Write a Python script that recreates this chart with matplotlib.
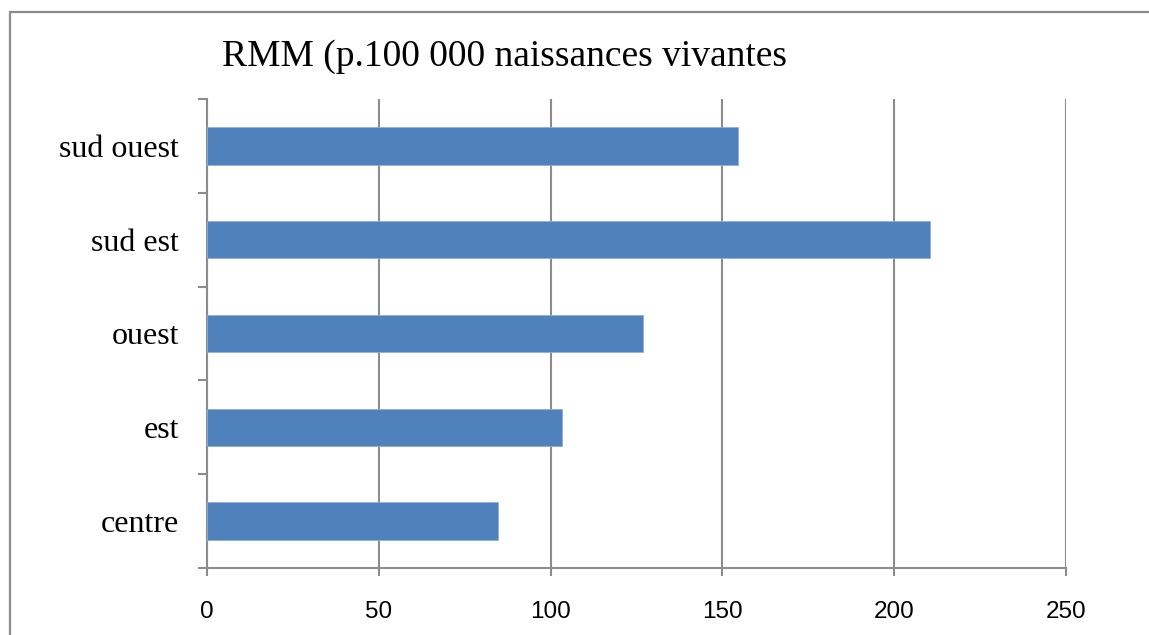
import matplotlib.pyplot as plt
from matplotlib.patches import Rectangle

regions = ["centre", "est", "ouest", "sud est", "sud ouest"]
rmm = [84.6, 103.4, 127.0, 210.5, 154.6]
x_ticks = [0, 50, 100, 150, 200, 250]

grey = "#8c8c8c"
W, H = 1149, 635

fig = plt.figure(figsize=(W / 100, H / 100), dpi=100)
ax = fig.add_axes([207 / W, 1 - 568 / H, (1066 - 207) / W, (568 - 99) / H])

pos = list(range(len(regions)))
ax.barh(pos, rmm, height=0.4, color="#4F81BD", edgecolor="#8fb0d8",
        linewidth=0.6, zorder=3)

ax.set_xlim(0, 250)
ax.set_ylim(-0.5, len(regions) - 0.5)

# grille verticale
ax.set_xticks(x_ticks)
ax.set_xticklabels([str(v) for v in x_ticks], family="Liberation Sans", fontsize=17.5)
ax.grid(axis="x", color=grey, linewidth=1.5, zorder=1)
ax.tick_params(axis="x", direction="out", length=5.5, width=1.5, color=grey, pad=18)

# ticks entre les catégories, libellés au centre
ax.set_yticks([p - 0.5 for p in pos] + [len(regions) - 0.5])
ax.set_yticklabels([])
ax.set_yticks(pos, minor=True)
ax.set_yticklabels(regions, minor=True, family="Liberation Serif", fontsize=23)
ax.tick_params(axis="y", which="major", direction="out", length=6.5, width=1.5, color=grey)
ax.tick_params(axis="y", which="minor", length=0, pad=20)

for s in ["top", "right"]:
    ax.spines[s].set_visible(False)
for s in ["left", "bottom"]:
    ax.spines[s].set_color(grey)
    ax.spines[s].set_linewidth(1.5)

fig.text(222 / W, 1 - 66 / H, "RMM (p.100 000 naissances vivantes",
         family="Liberation Serif", fontsize=27, ha="left", va="baseline")

# cadre du graphique
fig.patches.append(Rectangle((9.5 / W, -0.2), 1.2, 1.2 - 11.5 / H, transform=fig.transFigure,
                             fill=False, edgecolor=grey, linewidth=1.6))

fig.savefig("out.png", dpi=100)
